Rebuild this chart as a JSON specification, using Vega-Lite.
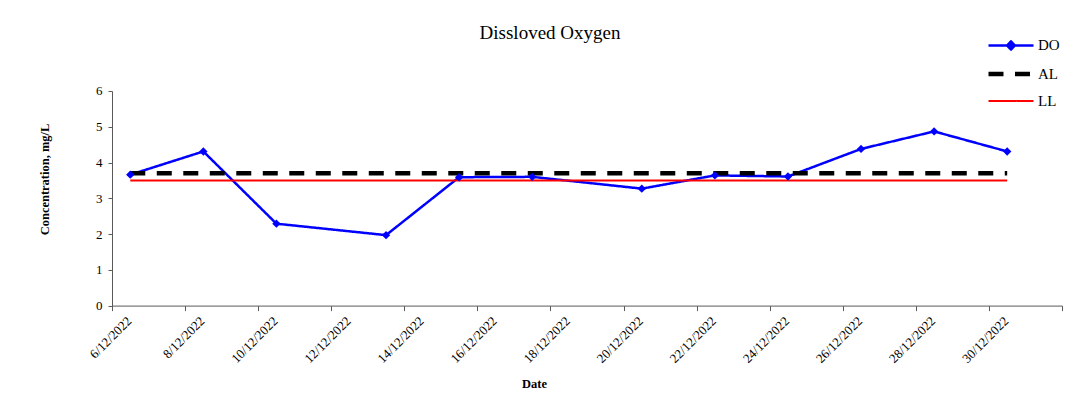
{
  "$schema": "https://vega.github.io/schema/vega-lite/v6.json",
  "autosize": "none",
  "width": 950,
  "height": 214.6,
  "padding": {"left": 112, "top": 91, "right": 21, "bottom": 99},
  "background": "white",
  "config": {"view": {"stroke": null}, "font": "Liberation Serif"},
  "title": {"text": "Dissloved Oxygen", "fontSize": 19, "fontWeight": "normal", "font": "Liberation Serif", "color": "black", "anchor": "middle", "baseline": "alphabetic", "dx": -37, "offset": 0, "dy": 24},
  "data": {"values": [
    {"date": "2022-12-06T12:00:00", "series": "DO", "value": 3.66},
    {"date": "2022-12-08T12:00:00", "series": "DO", "value": 4.31},
    {"date": "2022-12-10T12:00:00", "series": "DO", "value": 2.29},
    {"date": "2022-12-13T12:00:00", "series": "DO", "value": 1.97},
    {"date": "2022-12-15T12:00:00", "series": "DO", "value": 3.59},
    {"date": "2022-12-17T12:00:00", "series": "DO", "value": 3.6},
    {"date": "2022-12-20T12:00:00", "series": "DO", "value": 3.27},
    {"date": "2022-12-22T12:00:00", "series": "DO", "value": 3.64},
    {"date": "2022-12-24T12:00:00", "series": "DO", "value": 3.61},
    {"date": "2022-12-26T12:00:00", "series": "DO", "value": 4.38},
    {"date": "2022-12-28T12:00:00", "series": "DO", "value": 4.87},
    {"date": "2022-12-30T12:00:00", "series": "DO", "value": 4.31},
    {"date": "2022-12-06T12:00:00", "series": "AL", "value": 3.7},
    {"date": "2022-12-08T12:00:00", "series": "AL", "value": 3.7},
    {"date": "2022-12-10T12:00:00", "series": "AL", "value": 3.7},
    {"date": "2022-12-13T12:00:00", "series": "AL", "value": 3.7},
    {"date": "2022-12-15T12:00:00", "series": "AL", "value": 3.7},
    {"date": "2022-12-17T12:00:00", "series": "AL", "value": 3.7},
    {"date": "2022-12-20T12:00:00", "series": "AL", "value": 3.7},
    {"date": "2022-12-22T12:00:00", "series": "AL", "value": 3.7},
    {"date": "2022-12-24T12:00:00", "series": "AL", "value": 3.7},
    {"date": "2022-12-26T12:00:00", "series": "AL", "value": 3.7},
    {"date": "2022-12-28T12:00:00", "series": "AL", "value": 3.7},
    {"date": "2022-12-30T12:00:00", "series": "AL", "value": 3.7},
    {"date": "2022-12-06T12:00:00", "series": "LL", "value": 3.5},
    {"date": "2022-12-08T12:00:00", "series": "LL", "value": 3.5},
    {"date": "2022-12-10T12:00:00", "series": "LL", "value": 3.5},
    {"date": "2022-12-13T12:00:00", "series": "LL", "value": 3.5},
    {"date": "2022-12-15T12:00:00", "series": "LL", "value": 3.5},
    {"date": "2022-12-17T12:00:00", "series": "LL", "value": 3.5},
    {"date": "2022-12-20T12:00:00", "series": "LL", "value": 3.5},
    {"date": "2022-12-22T12:00:00", "series": "LL", "value": 3.5},
    {"date": "2022-12-24T12:00:00", "series": "LL", "value": 3.5},
    {"date": "2022-12-26T12:00:00", "series": "LL", "value": 3.5},
    {"date": "2022-12-28T12:00:00", "series": "LL", "value": 3.5},
    {"date": "2022-12-30T12:00:00", "series": "LL", "value": 3.5}
  ]},
  "encoding": {
    "x": {
      "field": "date", "type": "temporal", "title": "Date",
      "scale": {"domain": [{"year": 2022, "month": 12, "date": 6}, {"year": 2023, "month": 1, "date": 1}]},
      "axis": {
        "values": [
          {"year": 2022, "month": 12, "date": 6}, {"year": 2022, "month": 12, "date": 8},
          {"year": 2022, "month": 12, "date": 10}, {"year": 2022, "month": 12, "date": 12},
          {"year": 2022, "month": 12, "date": 14}, {"year": 2022, "month": 12, "date": 16},
          {"year": 2022, "month": 12, "date": 18}, {"year": 2022, "month": 12, "date": 20},
          {"year": 2022, "month": 12, "date": 22}, {"year": 2022, "month": 12, "date": 24},
          {"year": 2022, "month": 12, "date": 26}, {"year": 2022, "month": 12, "date": 28},
          {"year": 2022, "month": 12, "date": 30}, {"year": 2023, "month": 1, "date": 1}
        ],
        "format": "%-d/%m/%Y",
        "labelExpr": "month(datum.value) === 0 ? '' : datum.label",
        "labelAngle": -45, "labelAlign": "right", "labelBaseline": "middle",
        "labelOffset": 17, "labelPadding": 8, "labelFontSize": 13, "labelColor": "black",
        "labelOverlap": false, "labelFlush": false,
        "tickSize": 5, "tickColor": "#595959", "domainColor": "#595959", "grid": false,
        "titleFontSize": 12.5, "titleFontWeight": "bold", "titleColor": "black",
        "titleX": 422, "titleY": 82, "titleBaseline": "alphabetic", "titleAlign": "center"
      }
    },
    "y": {
      "field": "value", "type": "quantitative", "title": "Concentration, mg/L",
      "scale": {"domain": [0, 6]},
      "axis": {
        "values": [0, 1, 2, 3, 4, 5, 6], "format": "d",
        "labelFontSize": 13, "labelColor": "black", "labelPadding": 6,
        "tickSize": 4, "tickColor": "#595959", "domainColor": "#595959", "grid": false,
        "titleFontSize": 12.5, "titleFontWeight": "bold", "titleColor": "black",
        "titleAngle": -90, "titleX": -67.5, "titleY": 88, "titleAlign": "center", "titleBaseline": "middle"
      }
    }
  },
  "layer": [
    {
      "mark": {"type": "line"},
      "encoding": {
        "color": {
          "field": "series", "type": "nominal",
          "scale": {"domain": ["DO", "AL", "LL"], "range": ["#0000ff", "#000000", "#ff0000"]},
          "legend": {
            "orient": "none", "legendX": 874, "legendY": -57, "title": null,
            "labelFontSize": 15, "labelFont": "Liberation Serif", "labelColor": "black",
            "symbolSize": 400, "symbolType": "stroke", "labelOffset": 27, "rowPadding": 6.5,
            "encode": {"symbols": {"update": {
              "shape": {"signal": "datum.value === 'DO' ? 'M-1,0H3.5M0.85,0L1.25,-0.4L1.65,0L1.25,0.4Z' : 'M-1,0H3.5'"},
              "fill": {"signal": "datum.value === 'DO' ? '#0000ff' : 'transparent'"}
            }}}
          }
        },
        "strokeDash": {
          "field": "series", "type": "nominal",
          "scale": {"domain": ["DO", "AL", "LL"], "range": [[1, 0], [15, 11.5], [1, 0]]}
        },
        "strokeWidth": {
          "field": "series", "type": "nominal",
          "scale": {"type": "ordinal", "domain": ["DO", "AL", "LL"], "range": [2.5, 4.5, 2]}
        }
      }
    },
    {
      "transform": [{"filter": "datum.series === 'DO'"}],
      "mark": {"type": "point", "shape": "diamond", "filled": true, "color": "#0000ff", "size": 70, "opacity": 1}
    }
  ]
}
